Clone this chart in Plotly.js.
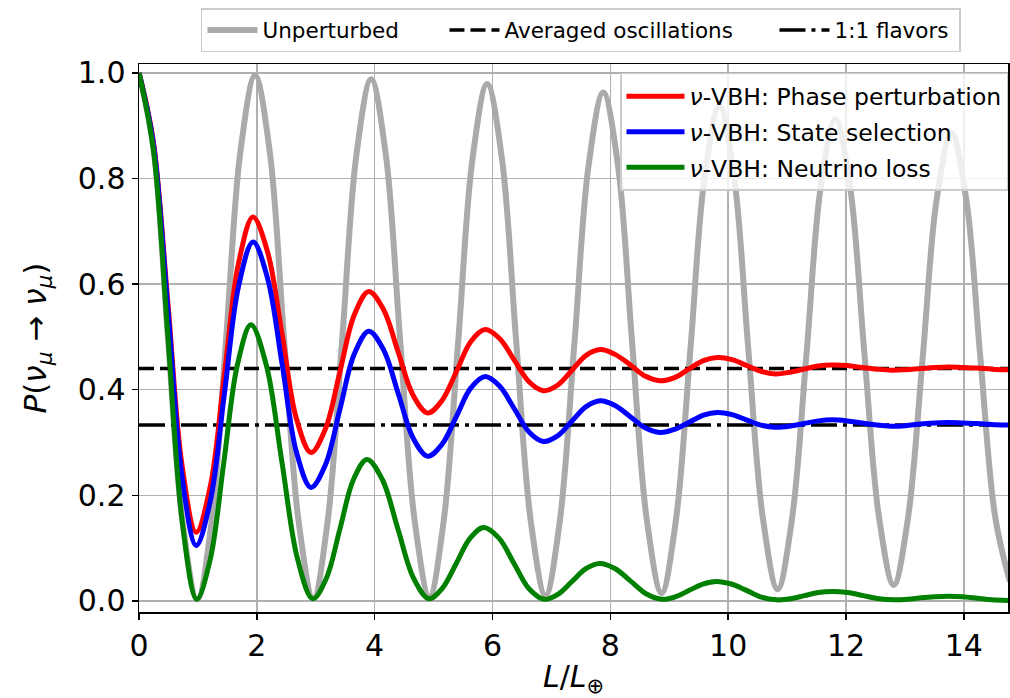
<!DOCTYPE html>
<html><head><meta charset="utf-8">
<script src="https://cdn.plot.ly/plotly-3.0.1.min.js"></script>
<style>html,body{margin:0;padding:0;background:#fff;}#chart{width:1010px;height:698px;}</style>
</head><body><div id="chart"></div>
<script>
// Unperturbed oscillation
const grayX = [0,0.25,0.49,0.74,0.99,1.23,1.48,1.72, 1.97,2.22,2.46,2.71,2.96,3.20,3.45,3.69,
  3.94,4.19,4.43,4.68,4.93,5.17,5.42,5.66, 5.91,6.16,6.40,6.65,6.90,7.14,7.39,7.63,
  7.88,8.13,8.37,8.62,8.87,9.11,9.36,9.60, 9.85,10.10,10.34,10.59,10.84,11.08,11.33,11.57,
  11.82,12.07,12.31,12.56,12.81,13.05,13.30,13.54, 13.79,14.04,14.28,14.53,14.78];
const grayY = [1.0,0.854,0.50,0.149, 0.003,0.148,0.499,0.850, 0.995,0.850,0.50,0.150, 0.005,0.149,0.497,0.845,
  0.988,0.845,0.498,0.151, 0.008,0.150,0.494,0.837, 0.979,0.838,0.495,0.151, 0.010,0.149,0.487,0.824,
  0.963,0.825,0.489,0.153, 0.015,0.150,0.477,0.803, 0.938,0.804,0.480,0.156, 0.022,0.152,0.468,0.783,
  0.913,0.784,0.472,0.159, 0.030,0.155,0.458,0.761, 0.886,0.762,0.462,0.161,0.037];

// nu-VBH: phase perturbation and state selection share sample positions
const vbhX = [0,0.24,0.49,0.73, 0.97,1.21,1.45,1.69, 1.935,2.18,2.43,2.67, 2.92,3.165,3.41,3.655,
  3.90,4.15,4.40,4.65, 4.90,5.14,5.39,5.63, 5.875,6.12,6.37,6.62, 6.865,7.11,7.35,7.59,
  7.83,8.08,8.34,8.59, 8.845,9.09,9.33,9.58, 9.82,10.065,10.31,10.555, 10.80,11.04,11.285,11.53,
  11.77,12.02,12.27,12.52, 12.77,13.01,13.255,13.50, 13.74,13.985,14.23,14.475,14.76];
const phaseY = [1.0,0.873,0.565,0.257, 0.13,0.217,0.429,0.640, 0.727,0.662,0.504,0.346, 0.281,0.326,0.434,0.542,
  0.586,0.552,0.471,0.390, 0.356,0.379,0.435,0.491, 0.514,0.497,0.456,0.415, 0.398,0.409,0.437,0.465,
  0.476,0.467,0.447,0.426, 0.417,0.423,0.439,0.455, 0.461,0.457,0.446,0.435, 0.430,0.433,0.439,0.445,
  0.447,0.446,0.442,0.439, 0.437,0.438,0.440,0.442, 0.443,0.442,0.441,0.439,0.438];
const stateY = [1.0,0.869,0.553,0.236, 0.105,0.189,0.393,0.596, 0.680,0.612,0.448,0.283, 0.215,0.258,0.363,0.468,
  0.511,0.476,0.393,0.309, 0.274,0.296,0.350,0.403, 0.425,0.407,0.364,0.320, 0.302,0.313,0.341,0.368,
  0.379,0.370,0.349,0.328, 0.319,0.325,0.338,0.352, 0.357,0.353,0.343,0.333, 0.329,0.331,0.336,0.341,
  0.343,0.341,0.337,0.333, 0.331,0.332,0.335,0.337, 0.338,0.337,0.336,0.334,0.333];

// nu-VBH: neutrino loss
const lossX = [0,0.245,0.49,0.735, 0.98,1.21,1.44,1.67, 1.90,2.16,2.425,2.69, 2.95,3.18,3.41,3.64,
  3.87,4.13,4.395,4.66, 4.92,5.15,5.385,5.62, 5.85,6.11,6.365,6.62, 6.88,7.115,7.35,7.585,
  7.82,8.085,8.35,8.615, 8.88,9.11,9.34,9.57, 9.80,10.055,10.31,10.565, 10.82,11.06,11.295,11.53,
  11.77,12.03,12.295,12.56, 12.82,13.05,13.28,13.51, 13.74,13.985,14.23,14.475,14.76];
const lossY = [1.0,0.854,0.502,0.149, 0.003,0.079,0.263,0.447, 0.523,0.447,0.264,0.080, 0.004,0.043,0.136,0.230,
  0.268,0.230,0.136,0.043, 0.004,0.024,0.071,0.119, 0.139,0.119,0.071,0.023, 0.003,0.013,0.037,0.061,
  0.071,0.061,0.037,0.013, 0.003,0.008,0.020,0.032, 0.037,0.032,0.020,0.007, 0.002,0.004,0.010,0.016,
  0.018,0.016,0.010,0.004, 0.002,0.003,0.006,0.008, 0.009,0.008,0.005,0.002,0.001];

// reference levels
const levelX = [0, 14.75];
const averagedLevel = 0.44;
const flavorLevel = 0.333;

const xTicks = [0,2,4,6,8,10,12,14];
const yTicks = [0.0,0.2,0.4,0.6,0.8,1.0];
const yTickText = ['0.0','0.2','0.4','0.6','0.8','1.0'];

const names = ['Unperturbed','Averaged oscillations','1:1 flavors',
  '<i>ν</i>-VBH: Phase perturbation','<i>ν</i>-VBH: State selection','<i>ν</i>-VBH: Neutrino loss'];

const traces = [
  {x: grayX, y: grayY, mode:'lines', name:names[0], legend:'legend', legendwidth:177,
   line:{color:'#aaaaaa', width:6, shape:'spline', smoothing:1}},
  {x: levelX, y: [averagedLevel, averagedLevel], mode:'lines', name:names[1], legend:'legend', legendwidth:265,
   line:{color:'black', width:3.5, dash:'15px,6px'}},
  {x: levelX, y: [flavorLevel, flavorLevel], mode:'lines', name:names[2], legend:'legend', legendwidth:120,
   line:{color:'black', width:3.5, dash:'26px,6px,4px,6px'}},
  {x: vbhX, y: phaseY, mode:'lines', name:names[3], legend:'legend2', legendgroup:'a',
   line:{color:'#ff0000', width:5, shape:'spline', smoothing:1}},
  {x: vbhX, y: stateY, mode:'lines', name:names[4], legend:'legend2', legendgroup:'b',
   line:{color:'#0000ff', width:5, shape:'spline', smoothing:1}},
  {x: lossX, y: lossY, mode:'lines', name:names[5], legend:'legend2', legendgroup:'c',
   line:{color:'#008000', width:5, shape:'spline', smoothing:1}}
];

const axisCommon = {
  showgrid:true, gridcolor:'#b0b0b0', gridwidth:1.5,
  showline:true, linecolor:'black', linewidth:1.5, mirror:true,
  ticks:'outside', ticklen:6, tickwidth:1.5, tickcolor:'black',
  tickfont:{size:30, family:'DejaVu Sans', color:'black'},
  zeroline:false, automargin:false
};

const layout = {
  width:1010, height:698,
  margin:{l:139, r:2, t:64, b:86},
  paper_bgcolor:'white', plot_bgcolor:'white',
  font:{family:'DejaVu Sans', color:'black'},
  showlegend:true,
  xaxis: Object.assign({}, axisCommon, {
    range:[0,14.75], tickmode:'array', tickvals:xTicks,
    title:{text:'<i>L</i>/<i>L</i><sub>⊕</sub>', font:{size:30}, standoff:4}
  }),
  yaxis: Object.assign({}, axisCommon, {
    range:[-0.021,1.017], tickmode:'array', tickvals:yTicks, ticktext:yTickText,
    title:{text:'<i>P</i>(<i>ν</i><sub><i>μ</i></sub> → <i>ν</i><sub><i>μ</i></sub>)', font:{size:31}, standoff:22}
  }),
  legend:{orientation:'h', x:0.0713, xanchor:'left', y:1.102, yanchor:'top', itemwidth:50,
    bordercolor:'#cccccc', borderwidth:1.5, bgcolor:'white', font:{size:21.5}},
  legend2:{x:1, xanchor:'right', y:0.9836, yanchor:'top', itemwidth:58,
    bordercolor:'#cccccc', borderwidth:1.5, bgcolor:'rgba(255,255,255,0.8)', font:{size:23.5}, tracegroupgap:2}
};

Plotly.newPlot('chart', traces, layout, {displayModeBar:false, staticPlot:true});
</script>
</body></html>
